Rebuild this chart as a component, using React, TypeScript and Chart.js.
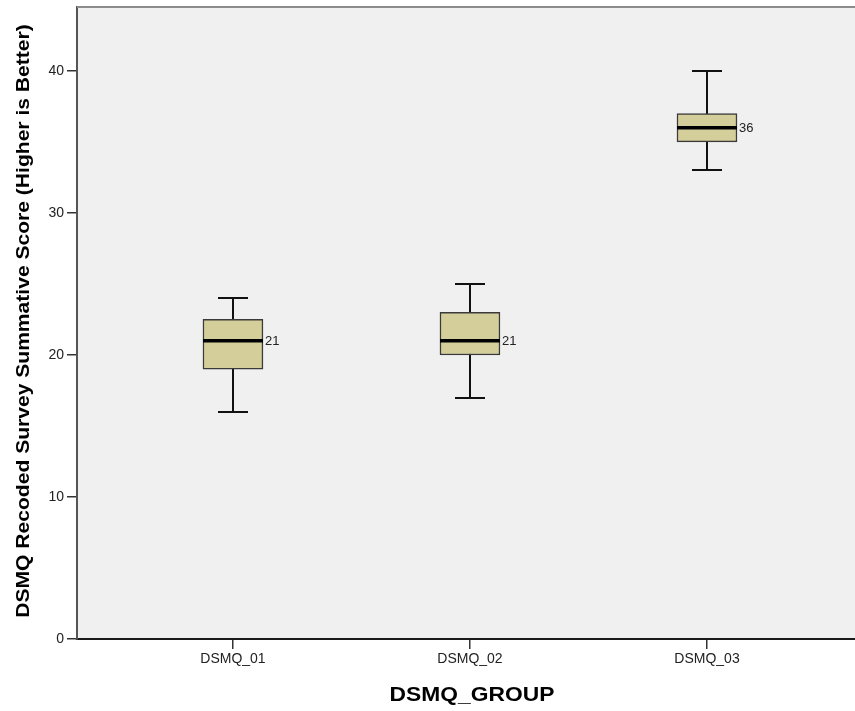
import React, { useEffect, useRef } from "react";
import { Chart, registerables } from "chart.js";

Chart.register(...registerables);

const categories = ["DSMQ_01", "DSMQ_02", "DSMQ_03"];
const positions = [1, 2, 3];
const whiskerMin = [16, 17, 33];
const q1 = [19, 20, 35];
const median = [21, 21, 36];
const q3 = [22.5, 23, 37];
const whiskerMax = [24, 25, 40];
const yTicks = [0, 10, 20, 30, 40];
const xTitle = "DSMQ_GROUP";
const yTitle = "DSMQ Recoded Survey Summative Score (Higher is Better)";

const FONT = "'Liberation Sans', Arial, sans-serif";

const boxPlugin = {
  id: "boxExtras",
  beforeDraw(chart: any) {
    const { ctx, chartArea } = chart;
    ctx.save();
    ctx.fillStyle = "#F0F0F0";
    ctx.fillRect(chartArea.left, chartArea.top, chartArea.right - chartArea.left, chartArea.bottom - chartArea.top);
    ctx.restore();
  },
  beforeDatasetsDraw(chart: any) {
    const { ctx, scales } = chart;
    const xs = scales.x, ys = scales.y;
    ctx.save();
    ctx.strokeStyle = "#111";
    ctx.lineWidth = 2;
    positions.forEach((p, i) => {
      const x = Math.round(xs.getPixelForValue(p));
      ctx.beginPath();
      ctx.moveTo(x, ys.getPixelForValue(whiskerMin[i]));
      ctx.lineTo(x, ys.getPixelForValue(whiskerMax[i]));
      ctx.stroke();
    });
    ctx.restore();
  },
  afterDatasetsDraw(chart: any) {
    const { ctx, scales } = chart;
    const xs = scales.x, ys = scales.y;
    const meta = chart.getDatasetMeta(0);
    ctx.save();
    positions.forEach((p, i) => {
      const x = Math.round(xs.getPixelForValue(p));
      const bar = meta.data[i];
      const half = bar.width / 2;
      ctx.strokeStyle = "#111";
      ctx.lineWidth = 2;
      [whiskerMin[i], whiskerMax[i]].forEach((v) => {
        const y = Math.round(ys.getPixelForValue(v));
        ctx.beginPath();
        ctx.moveTo(x - half / 2, y);
        ctx.lineTo(x + half / 2, y);
        ctx.stroke();
      });
      const ym = ys.getPixelForValue(median[i]);
      ctx.strokeStyle = "#000";
      ctx.lineWidth = 3.5;
      ctx.beginPath();
      ctx.moveTo(x - half, ym);
      ctx.lineTo(x + half, ym);
      ctx.stroke();
      ctx.fillStyle = "#222";
      ctx.font = `13px ${FONT}`;
      ctx.textAlign = "left";
      ctx.textBaseline = "middle";
      ctx.fillText(String(median[i]), x + half + 2, ym + 1);
    });
    ctx.restore();
  },
  afterDraw(chart: any) {
    const { ctx, chartArea, scales } = chart;
    ctx.save();
    ctx.strokeStyle = "#8c8c8c";
    ctx.lineWidth = 2;
    ctx.beginPath();
    ctx.moveTo(chartArea.left, chartArea.top);
    ctx.lineTo(chartArea.right, chartArea.top);
    ctx.stroke();
    ctx.fillStyle = "#000";
    ctx.textAlign = "center";
    ctx.textBaseline = "alphabetic";
    ctx.save();
    ctx.translate(scales.x.getPixelForValue(2) + 2, 701);
    ctx.scale(1.17, 1);
    ctx.font = `bold 19.5px ${FONT}`;
    ctx.fillText(xTitle, 0, 0);
    ctx.restore();
    ctx.translate(29, (chartArea.top + chartArea.bottom) / 2 - 2);
    ctx.rotate(-Math.PI / 2);
    ctx.scale(1.17, 1);
    ctx.font = `bold 18px ${FONT}`;
    ctx.fillText(yTitle, 0, 0);
    ctx.restore();
  },
};

export default function App() {
  const ref = useRef<HTMLCanvasElement>(null);
  useEffect(() => {
    if (!ref.current) return;
    const chart = new Chart(ref.current, {
      type: "bar",
      data: {
        datasets: [
          {
            data: positions.map((p, i) => ({ x: p, y: [q1[i], q3[i]] })) as any,
            backgroundColor: "#D3CE9A",
            borderColor: "#3a3a3a",
            borderWidth: 1.5,
            borderSkipped: false,
            barThickness: 60,
          },
        ],
      },
      options: {
        animation: false,
        responsive: true,
        maintainAspectRatio: false,
        layout: { padding: { top: 7, left: 0, right: 0, bottom: 0 } },
        plugins: { legend: { display: false }, tooltip: { enabled: false } },
        scales: {
          x: {
            type: "linear",
            offset: false,
            min: 0.342,
            max: 3.6245,
            afterBuildTicks: (s: any) => {
              s.ticks = positions.map((v) => ({ value: v }));
            },
            afterFit: (s: any) => {
              s.height = 72;
              s.paddingLeft = 0;
              s.paddingRight = 0;
            },
            ticks: {
              callback: (v: any) => categories[positions.indexOf(Number(v))] ?? "",
              color: "#222",
              font: { family: FONT, size: 14 },
              padding: 2,
              maxRotation: 0,
              autoSkip: false,
            },
            grid: { offset: false, drawOnChartArea: false, drawTicks: true, tickLength: 10, color: "#333", lineWidth: 1.5 },
            border: { display: true, color: "#1a1a1a", width: 2 },
          },
          y: {
            type: "linear",
            min: 0,
            max: 44.5,
            afterBuildTicks: (s: any) => {
              s.ticks = yTicks.map((v) => ({ value: v }));
            },
            afterFit: (s: any) => {
              s.width = 77;
              s.paddingTop = 0;
              s.paddingBottom = 0;
            },
            ticks: {
              color: "#222",
              font: { family: FONT, size: 14 },
              padding: 3,
            },
            grid: { drawOnChartArea: false, drawTicks: true, tickLength: 10, color: "#333", lineWidth: 1.5 },
            border: { display: true, color: "#555", width: 2 },
          },
        },
      },
      plugins: [boxPlugin],
    });
    return () => chart.destroy();
  }, []);
  return (
    <div style={{ position: "fixed", left: 0, top: 0, width: 855, height: 711, background: "#fff" }}>
      <canvas ref={ref} />
    </div>
  );
}
